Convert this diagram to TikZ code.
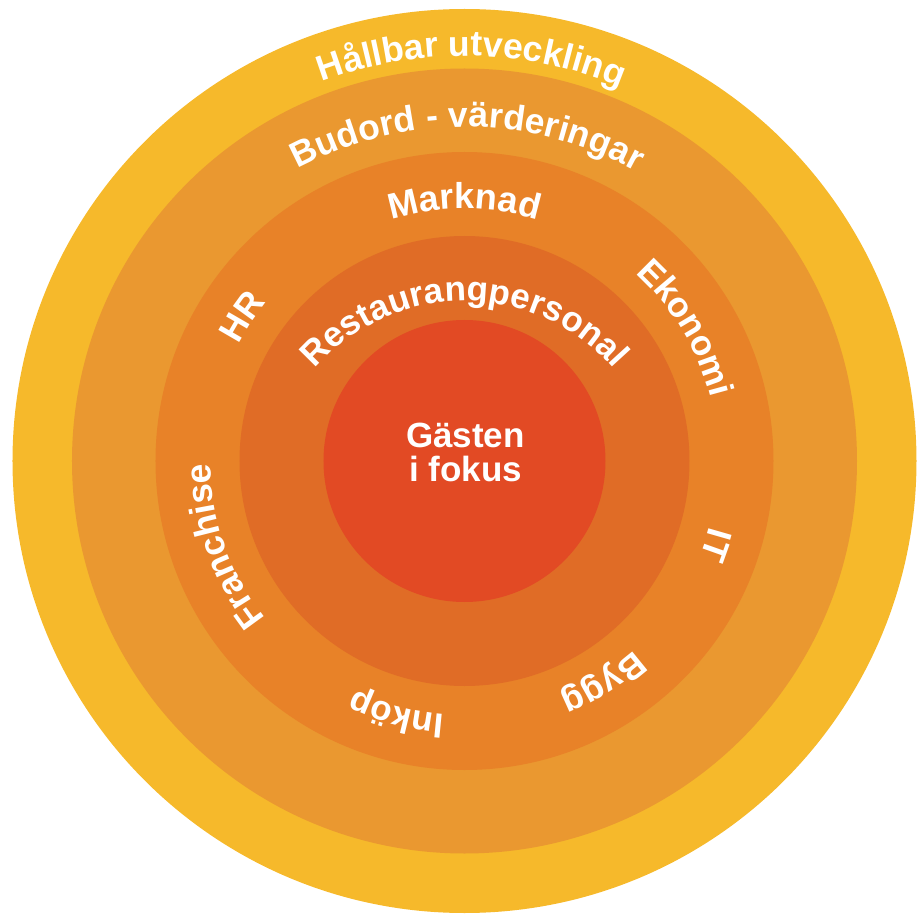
\documentclass[tikz,border=0pt]{standalone}
\usepackage{fontspec}
\setmainfont{Liberation Sans}
\usetikzlibrary{decorations.text}
\definecolor{cOuter}{RGB}{246,185,43}
\definecolor{cRingA}{RGB}{234,152,48}
\definecolor{cRingB}{RGB}{232,130,40}
\definecolor{cRingC}{RGB}{224,108,38}
\definecolor{cCore}{RGB}{226,74,36}
% #1 y of arc centre, #2 radius, #3 middle angle, #4 font size, #5 text
\newcommand\ringtext[5]{%
  \path[decorate, decoration={text along path, text align=center,
      text={|\fontsize{#4}{#4}\selectfont\bfseries\color{white}|#5}}]
    (0,#1) ++(#3+70:#2) arc[start angle=#3+70, end angle=#3-70, radius=#2];}
\begin{document}
\begin{tikzpicture}[x=1pt,y=1pt,
  disc/.style={circle, inner sep=0pt, outer sep=0pt, draw=none, minimum size=#1},
  core/.style={font=\fontsize{35}{35}\selectfont\bfseries, text=white, inner sep=0pt, anchor=base}]
\useasboundingbox (-464.5,-460) rectangle (455.5,461);
\node[disc=904pt, fill=cOuter] (hallbar) at (0,0) {};
\node[disc=785pt, fill=cRingA] (budord) at (0,0) {};
\node[disc=618pt, fill=cRingB] (stod) at (0,0) {};
\node[disc=450pt, fill=cRingC] (personal) at (0,0) {};
\node[disc=282pt, fill=cCore] (gast) at (0,0) {};
\node[core] (gasten) at (1,14) {Gästen};
\node[core] (fokus) at (1,-20) {i fokus};
\ringtext{0}{405pt}{89}{35.5}{Hållbar utveckling}
\ringtext{-20}{354pt}{89.5}{35.5}{Budord - värderingar}
\ringtext{-38}{198pt}{90}{35}{Restaurangpersonal}
\ringtext{0}{252pt}{90}{36}{Marknad}
\ringtext{0}{254pt}{147}{35}{HR}
\ringtext{0}{254pt}{31}{35}{Ekonomi}
\ringtext{0}{254pt}{-18.5}{35}{IT}
\ringtext{0}{254pt}{-58}{35}{Bygg}
\ringtext{0}{254pt}{-105}{35}{Inköp}
\ringtext{0}{254pt}{199.5}{35.5}{Franchise}
\end{tikzpicture}
\end{document}
